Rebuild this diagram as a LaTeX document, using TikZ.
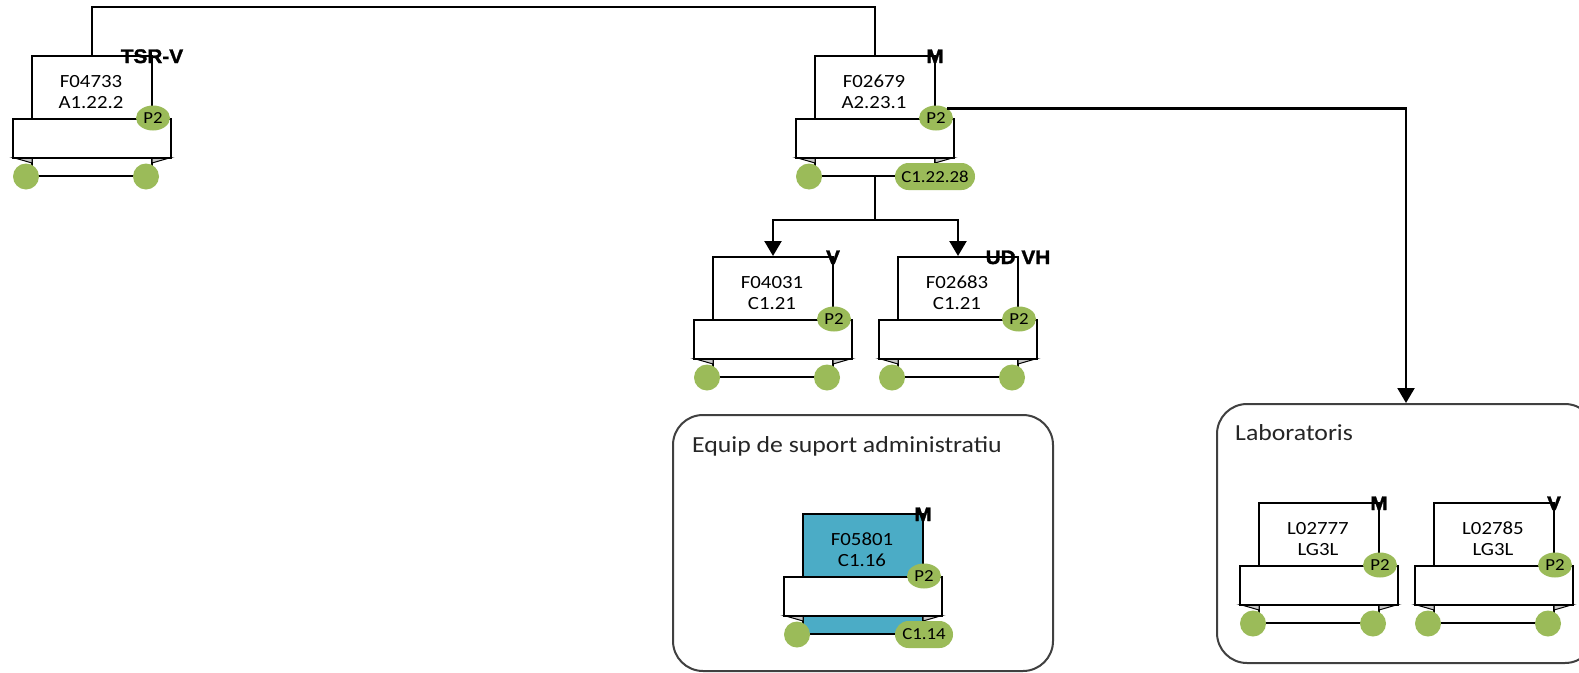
\documentclass[tikz,border=0pt]{standalone}
\usepackage{fontspec}
\setmainfont{Carlito}
\newfontfamily\cf[FakeStretch=1.12]{Carlito}
\newfontfamily\lf[FakeStretch=1.06,BoldFeatures={FakeBold=1.6}]{Liberation Sans}
\usetikzlibrary{arrows.meta,shapes.geometric}
\definecolor{cgreen}{HTML}{9BBB59}
\definecolor{cteal}{HTML}{4BACC6}
\definecolor{cgrey}{HTML}{404040}
\definecolor{cfold}{HTML}{C8C8C8}
\tikzset{
 paper/.style={draw=black, line width=2pt, minimum width=120pt, minimum height=120pt, inner sep=0pt, rectangle},
 scrollbox/.style={draw=black, line width=2pt, fill=white, minimum width=158pt, minimum height=38.5pt, inner sep=0pt, rectangle},
 fold/.style={draw=black, line width=1pt, fill=cfold},
 dot/.style={circle, fill=cgreen, minimum size=26pt, inner sep=0pt},
 pill/.style={rectangle, rounded corners=13.5pt, fill=cgreen, minimum height=27pt, inner sep=0pt, font=\cf\fontsize{16.8}{18}\selectfont},
 ptwo/.style={ellipse, fill=cgreen, minimum width=34pt, minimum height=25pt, inner sep=0pt, font=\cf\fontsize{16.8}{18}\selectfont},
 txt/.style={anchor=base, inner sep=0pt, font=\cf\fontsize{18.6}{20}\selectfont},
 lbl/.style={anchor=base, inner sep=0pt, font=\lf\bfseries\fontsize{19.6}{22}\selectfont},
 group/.style={draw=cgrey, line width=2pt, rounded corners=30pt, rectangle, inner sep=0pt},
 grouplbl/.style={anchor=base west, inner sep=0pt, text=black!85, font=\cf\fontsize{23}{26}\selectfont},
 conn/.style={draw=black, line width=2.3pt},
 arr/.style={conn, -{Triangle[width=17pt,length=15pt]}},
}
\newcommand{\orgcard}[9]{%
 \begin{scope}[shift={(#2,#3)}]
  \node[paper, fill=#7] (#1) at (60,60) {};
  \filldraw[fold] (-19,101.5) -- (0,101.5) -- (0,107) -- cycle;
  \filldraw[fold] (139,101.5) -- (120,101.5) -- (120,107) -- cycle;
  \node[scrollbox] (#1-s) at (60,82.25) {};
  \node[dot] (#1-l) at (-6,120.5) {};
  \node[#8] (#1-r) at (114,120.5) {#9};
  \node[ptwo] (#1-p) at (121,62) {P2};
  \node[txt] (#1-a) at (59,31) {#4};
  \node[txt] (#1-b) at (59,52) {#5};
  \node[lbl] (#1-t) at (120,7) {#6};
 \end{scope}}
\begin{document}
\begin{tikzpicture}[x=1pt,y=-1pt]
\useasboundingbox (0,0) rectangle (1579,672);
\clip (0,0) rectangle (1579,672);
\fill[white] (0,0) rectangle (1579,672);
% groups
\node[group, minimum width=380pt, minimum height=256pt] (adm) at (863,543) {};
\node[group, minimum width=378pt, minimum height=259pt] (lab) at (1406,533.5) {};
\node[grouplbl] (adm-t) at (692,452) {Equip de suport administratiu};
\node[grouplbl] (lab-t) at (1235,440) {Laboratoris};
% cards
\orgcard{c1}{32}{56}{F04733}{A1.22.2}{TSR-V}{white}{dot}{}
\orgcard{c2}{815}{56}{F02679}{A2.23.1}{M}{white}{pill,minimum width=80pt,xshift=6pt}{C1.22.28}
\orgcard{c3}{713}{257}{F04031}{C1.21}{V}{white}{dot}{}
\orgcard{c4}{898}{257}{F02683}{C1.21}{UD VH}{white}{dot}{}
\orgcard{c5}{803}{514}{F05801}{C1.16}{M}{cteal}{pill,minimum width=58pt,xshift=7pt}{C1.14}
\orgcard{c6}{1259}{503}{L02777}{LG3L}{M}{white}{dot}{}
\orgcard{c7}{1434}{503}{L02785}{LG3L}{V}{white}{dot}{}
% connectors
\coordinate (j) at (875,220);
\draw[conn] (c1.north) -- ++(0,-48) -| (c2.north);
\draw[conn] (c2.south) -- (j);
\draw[arr] (j) -| (c3.north);
\draw[arr] (j) -| (c4.north);
\draw[arr] (c2-p.40) -| (lab.north);
\end{tikzpicture}
\end{document}
